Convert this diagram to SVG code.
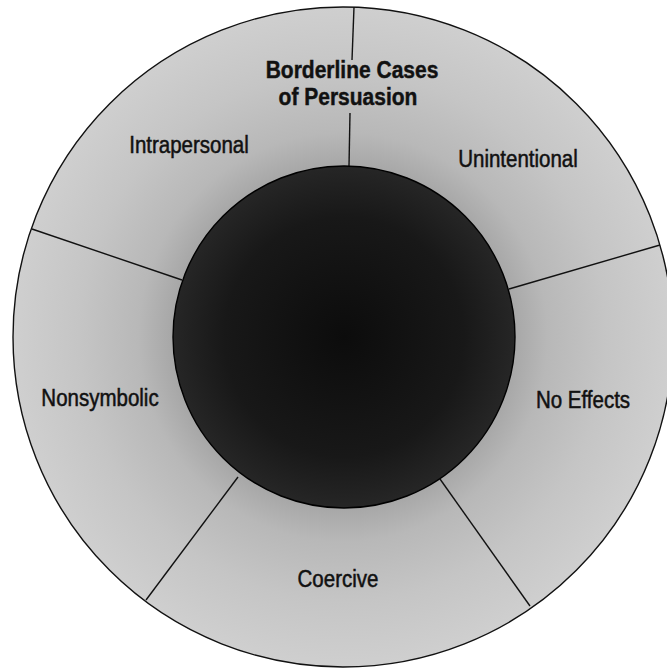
<svg xmlns="http://www.w3.org/2000/svg" width="667" height="669" viewBox="0 0 667 669">
<style>
.lbl{font-family:"Liberation Sans",Arial,Helvetica,sans-serif;font-size:20.5px;fill:#111;stroke:#111;stroke-width:0.45;text-anchor:middle}
.ttl{font-family:"Liberation Sans",Arial,Helvetica,sans-serif;font-size:21px;font-weight:bold;fill:#111;stroke:#111;stroke-width:0.4;text-anchor:middle}
.div{stroke:#111;stroke-width:1.4;fill:none}
</style>
<defs>
<radialGradient id="ringGrad" cx="343" cy="337" r="330" gradientUnits="userSpaceOnUse">
<stop offset="0.5" stop-color="#a4a4a4"/>
<stop offset="0.62" stop-color="#b8b8b8"/>
<stop offset="0.8" stop-color="#c5c5c5"/>
<stop offset="1" stop-color="#cfcfcf"/>
</radialGradient>
<radialGradient id="coreGrad" cx="344" cy="337" r="171" gradientUnits="userSpaceOnUse">
<stop offset="0" stop-color="#0c0c0c"/>
<stop offset="0.7" stop-color="#181818"/>
<stop offset="1" stop-color="#262626"/>
</radialGradient>
</defs>
<rect width="667" height="669" fill="#fff"/>
<g id="outer-ring">
<circle cx="343" cy="337" r="330" fill="url(#ringGrad)" stroke="#111" stroke-width="1.4"/>
</g>
<g id="connectors">
<line class="div" x1="354" y1="7" x2="352" y2="60"/>
<line class="div" x1="350" y1="113" x2="349" y2="166"/>
<line class="div" x1="32" y1="229" x2="182" y2="280"/>
<line class="div" x1="660" y1="245" x2="509" y2="289"/>
<line class="div" x1="440" y1="479" x2="530" y2="606"/>
<line class="div" x1="238" y1="477" x2="146" y2="600"/>
</g>
<g id="inner-circle">
<circle cx="344" cy="337" r="171" fill="url(#coreGrad)" stroke="#000" stroke-width="1.4"/>
</g>
<g id="title">
<text class="ttl" transform="translate(352,78) scale(1,1.1)">Borderline Cases</text>
<text class="ttl" transform="translate(348,105) scale(1,1.1)">of Persuasion</text>
</g>
<g id="intrapersonal">
<text class="lbl" transform="translate(189,153) scale(1,1.15)">Intrapersonal</text>
</g>
<g id="unintentional">
<text class="lbl" transform="translate(518,167) scale(1,1.15)">Unintentional</text>
</g>
<g id="nonsymbolic">
<text class="lbl" transform="translate(100,406) scale(1,1.15)">Nonsymbolic</text>
</g>
<g id="no-effects">
<text class="lbl" transform="translate(583,408) scale(1,1.15)">No Effects</text>
</g>
<g id="coercive">
<text class="lbl" transform="translate(338,587) scale(1,1.15)">Coercive</text>
</g>
</svg>
